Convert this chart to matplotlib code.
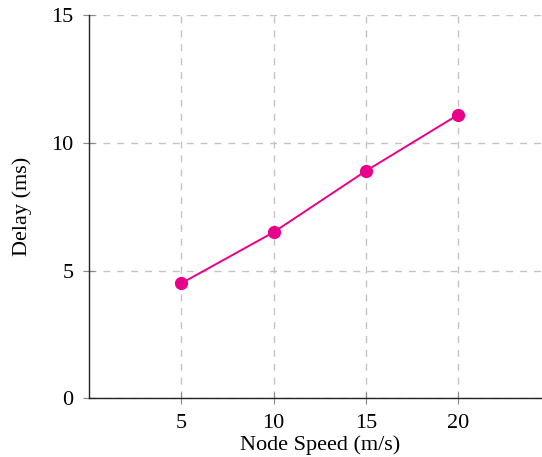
import matplotlib.pyplot as plt

plt.rcParams['font.family'] = ['Liberation Serif', 'DejaVu Serif']
plt.rcParams['mathtext.fontset'] = 'stix'

speed = [5, 10, 15, 20]
delay = [4.5, 6.5, 8.9, 11.1]
x_ticks = [5, 10, 15, 20]
y_ticks = [0, 5, 10, 15]

fig = plt.figure(figsize=(5.42, 4.57), dpi=100)
ax = fig.add_axes([89 / 542, 1 - 398.3 / 457, 461.7 / 542, 383.3 / 457])

ax.plot(speed, delay, color='#E8008A', lw=1.4, marker='o', markersize=8.5,
        zorder=3, clip_on=False)

ax.set_xlim(0, 25)
ax.set_ylim(0, 15)
ax.set_xticks(x_ticks)
ax.set_yticks(y_ticks)

ax.grid(True, color='#c4c4c4', lw=1.0, linestyle=(0, (5, 5)))
ax.set_axisbelow(True)

for side in ['top', 'right']:
    ax.spines[side].set_visible(False)
for side in ['left', 'bottom']:
    ax.spines[side].set_linewidth(1.0)
    ax.spines[side].set_color('#222222')

ax.tick_params(axis='both', direction='inout', length=8.5, width=0.8,
               color='#888888', labelsize=16)
ax.tick_params(axis='y', pad=7)
ax.tick_params(axis='x', pad=7)

ax.set_xlabel('Node Speed (m/s)', fontsize=16, labelpad=2)
ax.set_ylabel('Delay (ms)', fontsize=16, labelpad=14)

fig.savefig('out.png', dpi=100)
